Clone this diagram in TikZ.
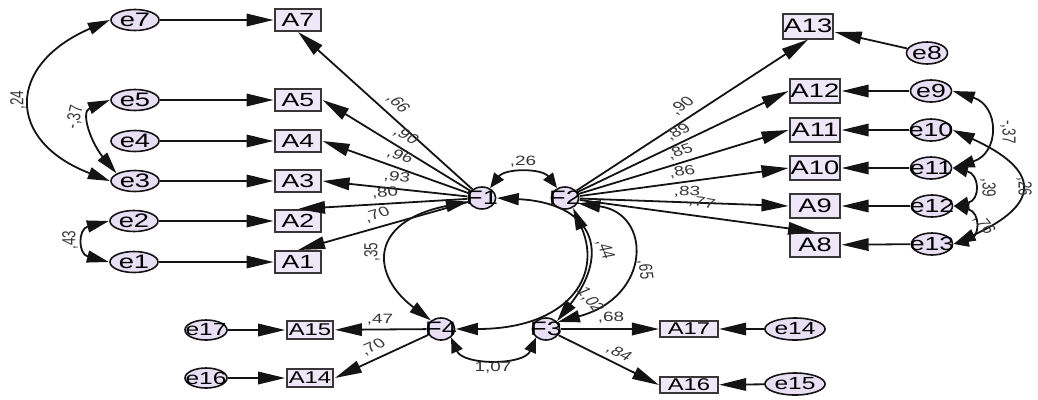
\documentclass[tikz,border=0pt]{standalone}
\usepackage{fontspec}
\setmainfont{Liberation Sans}
\usetikzlibrary{arrows.meta,shapes.geometric}
\definecolor{nodefill}{RGB}{232,223,245}
\definecolor{boxfill}{RGB}{237,231,247}
\definecolor{ink}{RGB}{20,20,20}
\newcommand\zb[1]{\makebox[0pt]{#1}}
\begin{document}
\begin{tikzpicture}[x=0.714286pt,y=-1pt,
  line width=1.8pt, draw=ink,
  obs/.style={rectangle, draw=ink!85, line width=2pt, fill=boxfill, inner sep=0pt},
  obsL/.style={obs, minimum width=33pt, minimum height=22pt, font=\fontsize{19}{19}\selectfont},
  obsR/.style={obs, minimum width=36pt, minimum height=24pt, font=\fontsize{19.5}{19.5}\selectfont},
  obsB/.style={obs, minimum width=33.5pt, minimum height=18pt, font=\fontsize{17}{17}\selectfont},
  obsC/.style={obs, minimum width=41pt, minimum height=16pt, font=\fontsize{17}{17}\selectfont},
  err/.style={ellipse, draw=ink, line width=1.6pt, fill=nodefill, inner sep=0pt},
  errL/.style={err, minimum width=34.3pt, minimum height=21pt, font=\fontsize{19.5}{19.5}\selectfont},
  errR/.style={err, minimum width=29.3pt, minimum height=22pt, font=\fontsize{19}{19}\selectfont},
  errB/.style={err, minimum width=30pt, minimum height=20pt, font=\fontsize{17.5}{17.5}\selectfont},
  errC/.style={err, minimum width=43pt, minimum height=22pt, font=\fontsize{17.5}{17.5}\selectfont},
  lat/.style={err, minimum width=19.5pt, minimum height=22pt, font=\fontsize{19.5}{19.5}\selectfont},
  lab/.style={inner sep=0pt, font=\fontsize{13.5}{13.5}\selectfont, text=ink!85},
  arr/.style={-{Triangle[length=27pt,width=12.5pt]}},
  cov/.style={{Triangle[length=22pt,width=12pt]}-{Triangle[length=22pt,width=12pt]}},
  covs/.style={{Triangle[length=15pt,width=12pt]}-{Triangle[length=15pt,width=12pt]}}]
\begin{scope}[xscale=1.4, transform shape]
\useasboundingbox (0,0) rectangle (1038,399);
% left error terms and indicators
\node[errL] (e7) at (135,20) {\zb{e7}};
\node[errL] (e5) at (135,100) {\zb{e5}};
\node[errL] (e4) at (135,141) {\zb{e4}};
\node[errL] (e3) at (135,181) {\zb{e3}};
\node[errL] (e2) at (134,221) {\zb{e2}};
\node[errL] (e1) at (134,262) {\zb{e1}};
\node[obsL] (A7) at (298,20) {A7};
\node[obsL] (A5) at (298,100) {A5};
\node[obsL] (A4) at (298,141) {A4};
\node[obsL] (A3) at (298,181) {A3};
\node[obsL] (A2) at (298,221) {A2};
\node[obsL] (A1) at (298,262) {A1};
% latent
\node[lat] (F1) at (482,198) {\zb{F1}};
\node[lat] (F2) at (565,198) {\zb{F2}};
\node[lat] (F4) at (441,329) {\zb{F4}};
\node[lat] (F3) at (546,329) {\zb{F3}};
% bottom
\node[errB] (e17) at (206,330) {\zb{e17}};
\node[errB] (e16) at (206,378) {\zb{e16}};
\node[obsB] (A15) at (310,330) {A15};
\node[obsB] (A14) at (310,378) {A14};
\node[obsC] (A17) at (689,329) {A17};
\node[obsC] (A16) at (689,385) {A16};
\node[errC] (e14) at (795,329) {\zb{e14}};
\node[errC] (e15) at (795,384) {\zb{e15}};
% right
\node[obsR, minimum height=25pt] (A13) at (808,26) {A13};
\node[errR] (e8) at (927,53) {\zb{e8}};
\node[obsR] (A12) at (815,91) {A12};
\node[obsR] (A11) at (815,130) {A11};
\node[obsR] (A10) at (815,168) {A10};
\node[obsR] (A9) at (815,206) {A9};
\node[obsR] (A8) at (815,245) {A8};
\node[errR] (e9) at (931,91) {\zb{e9}};
\node[errR] (e10) at (931,130) {\zb{e10}};
\node[errR] (e11) at (931,168) {\zb{e11}};
\node[errR] (e12) at (932,206) {\zb{e12}};
\node[errR] (e13) at (932,244) {\zb{e13}};

% error -> indicator
\draw[arr] (e7) -- (A7);
\draw[arr] (e5) -- (A5);
\draw[arr] (e4) -- (A4);
\draw[arr] (e3) -- (A3);
\draw[arr] (e2) -- (A2);
\draw[arr] (e1) -- (A1);
\draw[arr] (e17) -- (A15);
\draw[arr] (e16) -- (A14);
\draw[arr] (e14) -- (A17);
\draw[arr] (e15) -- (A16);
\draw[arr] (e8) -- (A13);
\draw[arr] (e9) -- (A12);
\draw[arr] (e10) -- (A11);
\draw[arr] (e11) -- (A10);
\draw[arr] (e12) -- (A9);
\draw[arr] (e13) -- (A8);
% loadings
\draw[arr] (F1) -- (A7.south);
\draw[arr] (F1) -- (A5.east);
\draw[arr] (F1) -- (A4.east);
\draw[arr] (F1) -- (A3.east);
\draw[arr] (F1) -- (A2.north);
\draw[arr] (F1) -- (A1.north);
\draw[arr] (F2) -- (A13.south);
\draw[arr] (F2) -- (A12.west);
\draw[arr] (F2) -- (A11.west);
\draw[arr] (F2) -- (A10.west);
\draw[arr] (F2) -- (A9.west);
\draw[arr] (F2) -- (A8.north);
\draw[arr] (F4) -- (A15);
\draw[arr] (F4) -- (A14.east);
\draw[arr] (F3) -- (A17);
\draw[arr] (F3) -- (A16.west);
% covariances
\draw[cov] (e7.west) .. controls +(-104,45) and +(-104,-40) .. (e3.west);
\draw[cov] (e5.west) .. controls +(-30,12) and +(-25,-30) .. (e3.150);
\draw[cov] (e2.west) .. controls +(-31,8) and +(-31,-8) .. (e1.west);
\draw[cov] (e9.east) .. controls +(47,15) and +(47,-15) .. (e11.east);
\draw[cov] (e10.east) .. controls +(88,40) and +(88,-40) .. (e13.east);
\draw[covs] (e11.east) .. controls +(27,6) and +(27,-6) .. (e12.east);
\draw[covs] (e12.east) .. controls +(27,6) and +(27,-6) .. (e13.east);
\draw[covs] (F1.60) .. controls +(15,-20) and +(-15,-20) .. (F2.120);
\draw[cov] (F1.200) .. controls +(-100,20) and +(-60,-45) .. (F4.130);
\draw[cov] (F1.east) .. controls +(95,5) and +(55,-70) .. (F3.45);
\draw[cov] (F4.east) .. controls +(110,0) and +(30,70) .. (F2.-60);
\draw[cov] (F2.-30) .. controls +(74,10) and +(94,-25) .. (F3.40);
\draw[covs] (F4.-50) .. controls +(12,28) and +(-12,28) .. (F3.-130);
% labels
\node[lab,rotate=90] (l24) at (18,100) {,24};
\node[lab,rotate=80] (l37a) at (75,117) {-,37};
\node[lab,rotate=90] (l43) at (70,240) {,43};
\node[lab,rotate=-90] (l37b) at (1008,132) {-,37};
\node[lab,rotate=-90] (l26b) at (1024,187) {,26};
\node[lab,rotate=-90] (l39) at (988,188) {,39};
\node[lab,rotate=-60] (l76) at (984,225) {,76};
\node[lab,rotate=-53.4] (l66) at (398,104) {,66};
\node[lab,rotate=-36.7] (l90a) at (406,136) {,90};
\node[lab,rotate=-23.5] (l96) at (400,156) {,96};
\node[lab,rotate=-7.4] (l93) at (397,177) {,93};
\node[lab,rotate=5.2] (l80) at (385,193) {,80};
\node[lab,rotate=21.6] (l70a) at (377,215) {,70};
\node[lab,rotate=42.7] (l90b) at (682,106) {,90};
\node[lab,rotate=33.6] (l89) at (678,132) {,89};
\node[lab,rotate=22.9] (l85) at (680,152) {,85};
\node[lab,rotate=10.6] (l86) at (682,172) {,86};
\node[lab,rotate=-2.8] (l83) at (687,192) {,83};
\node[lab,rotate=-11.1] (l77) at (702,203) {,77};
\node[lab] (l26a) at (523,162) {,26};
\node[lab,rotate=90] (l35) at (372,252) {,35};
\node[lab,rotate=-75] (l44) at (605,250) {,44};
\node[lab,rotate=-60] (l102) at (590,300) {1,02};
\node[lab,rotate=-85] (l65) at (645,270) {,65};
\node[lab] (l107) at (493,368) {1,07};
\node[lab] (l47) at (380,320) {,47};
\node[lab,rotate=32.4] (l70b) at (373,347) {,70};
\node[lab] (l68) at (611,318) {,68};
\node[lab,rotate=-34.3] (l84) at (619,353) {,84};
\end{scope}
\end{tikzpicture}
\end{document}
